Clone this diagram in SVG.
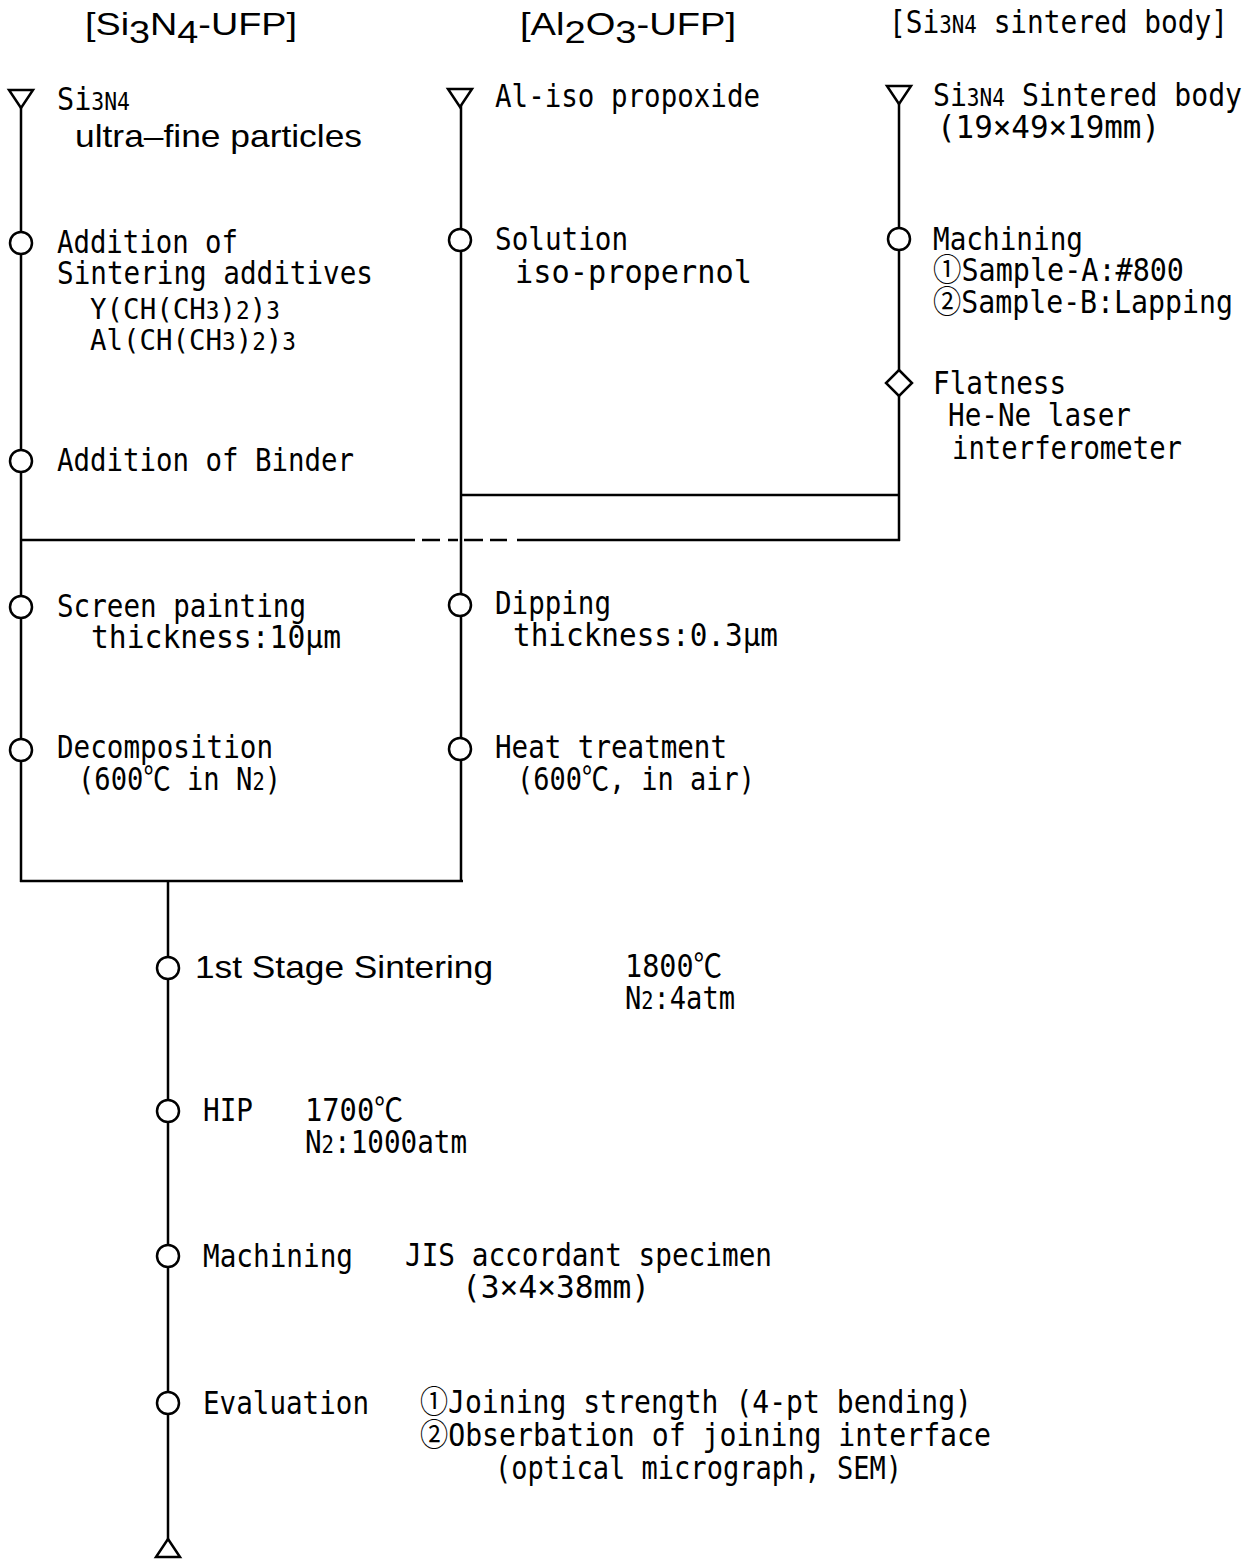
<svg xmlns="http://www.w3.org/2000/svg" width="1254" height="1559" viewBox="0 0 1254 1559">
<style>
.j{font-family:"DejaVu Sans Mono","Liberation Mono","Noto Sans CJK JP",monospace;font-size:32px;fill:#000}
.a{font-family:"Liberation Sans","Noto Sans CJK JP",sans-serif;font-size:32px;fill:#000}
.s{font-size:24px}
.ln{stroke:#000;stroke-width:2.5;fill:none}
.sym{stroke:#000;stroke-width:2.5;fill:#fff}
</style>
<rect width="1254" height="1559" fill="#fff"/>
<g id="connectors">
<line class="ln" x1="21" y1="106" x2="21" y2="882"/>
<line class="ln" x1="461" y1="105" x2="461" y2="882"/>
<line class="ln" x1="899" y1="102" x2="899" y2="541"/>
<line class="ln" x1="461" y1="495" x2="900" y2="495"/>
<line class="ln" x1="20" y1="540" x2="415" y2="540"/>
<line class="ln" x1="422" y1="540" x2="440" y2="540"/>
<line class="ln" x1="448" y1="540" x2="458" y2="540"/>
<line class="ln" x1="464" y1="540" x2="483" y2="540"/>
<line class="ln" x1="490" y1="540" x2="507" y2="540"/>
<line class="ln" x1="517" y1="540" x2="900" y2="540"/>
<line class="ln" x1="20" y1="881" x2="463" y2="881"/>
<line class="ln" x1="168" y1="881" x2="168" y2="1541"/>
</g>
<g id="hdr1"><text class="a" x="85" y="35" textLength="212" lengthAdjust="spacingAndGlyphs">[Si<tspan dy="8">3</tspan><tspan dy="-8">N</tspan><tspan dy="8">4</tspan><tspan dy="-8">-UFP]</tspan></text></g>
<g id="hdr2"><text class="a" x="520" y="35" textLength="216" lengthAdjust="spacingAndGlyphs">[Al<tspan dy="8">2</tspan><tspan dy="-8">O</tspan><tspan dy="8">3</tspan><tspan dy="-8">-UFP]</tspan></text></g>
<g id="hdr3"><text class="j" x="889" y="33" textLength="339" lengthAdjust="spacingAndGlyphs">[Si<tspan class="s">3N4</tspan> sintered body]</text></g>

<g id="n-si3n4-ufp">
<polygon class="sym" points="9,90 33,90 21,108"/>
<text class="j" x="57" y="110" textLength="73" lengthAdjust="spacingAndGlyphs">Si<tspan class="s">3N4</tspan></text>
<text class="a" x="75" y="147" textLength="287" lengthAdjust="spacingAndGlyphs">ultra–fine particles</text>
</g>
<g id="n-sintering-additives">
<circle class="sym" cx="21" cy="243" r="11"/>
<text class="j" x="57" y="253" textLength="181" lengthAdjust="spacingAndGlyphs">Addition of</text>
<text class="j" x="57" y="284" textLength="316" lengthAdjust="spacingAndGlyphs">Sintering additives</text>
<text class="j" x="90" y="319" textLength="190" lengthAdjust="spacingAndGlyphs" style="font-size:29px">Y(CH(CH<tspan class="s">3</tspan>)<tspan class="s">2</tspan>)<tspan class="s">3</tspan></text>
<text class="j" x="90" y="350" textLength="206" lengthAdjust="spacingAndGlyphs" style="font-size:29px">Al(CH(CH<tspan class="s">3</tspan>)<tspan class="s">2</tspan>)<tspan class="s">3</tspan></text>
</g>
<g id="n-binder">
<circle class="sym" cx="21" cy="461" r="11"/>
<text class="j" x="57" y="471" textLength="297" lengthAdjust="spacingAndGlyphs">Addition of Binder</text>
</g>
<g id="n-screen">
<circle class="sym" cx="21" cy="607" r="11"/>
<text class="j" x="57" y="617" textLength="249" lengthAdjust="spacingAndGlyphs">Screen painting</text>
<text class="j" x="91" y="648" textLength="250" lengthAdjust="spacingAndGlyphs">thickness:10μm</text>
</g>
<g id="n-decomp">
<circle class="sym" cx="21" cy="750" r="11"/>
<text class="j" x="57" y="758" textLength="216" lengthAdjust="spacingAndGlyphs">Decomposition</text>
<text class="j" x="78" y="790" textLength="203" lengthAdjust="spacingAndGlyphs">(600℃ in N<tspan class="s">2</tspan>)</text>
</g>

<g id="n-al-iso">
<polygon class="sym" points="448,89 472,89 460,107"/>
<text class="j" x="495" y="107" textLength="265" lengthAdjust="spacingAndGlyphs">Al-iso propoxide</text>
</g>
<g id="n-solution">
<circle class="sym" cx="460" cy="240" r="11"/>
<text class="j" x="495" y="250" textLength="133" lengthAdjust="spacingAndGlyphs">Solution</text>
<text class="j" x="515" y="283" textLength="237" lengthAdjust="spacingAndGlyphs">iso-propernol</text>
</g>
<g id="n-dipping">
<circle class="sym" cx="460" cy="605" r="11"/>
<text class="j" x="495" y="614" textLength="116" lengthAdjust="spacingAndGlyphs">Dipping</text>
<text class="j" x="513" y="646" textLength="265" lengthAdjust="spacingAndGlyphs">thickness:0.3μm</text>
</g>
<g id="n-heat">
<circle class="sym" cx="460" cy="749" r="11"/>
<text class="j" x="495" y="758" textLength="232" lengthAdjust="spacingAndGlyphs">Heat treatment</text>
<text class="j" x="517" y="790" textLength="238" lengthAdjust="spacingAndGlyphs">(600℃, in air)</text>
</g>

<g id="n-sintered-body">
<polygon class="sym" points="887,86 911,86 899,104"/>
<text class="j" x="933" y="106" textLength="309" lengthAdjust="spacingAndGlyphs">Si<tspan class="s">3N4</tspan> Sintered body</text>
<text class="j" x="937" y="138" textLength="223" lengthAdjust="spacingAndGlyphs">(19×49×19mm)</text>
</g>
<g id="n-machining1">
<circle class="sym" cx="899" cy="239" r="11"/>
<text class="j" x="933" y="250" textLength="150" lengthAdjust="spacingAndGlyphs">Machining</text>
<text class="j" x="933" y="281" textLength="251" lengthAdjust="spacingAndGlyphs">①Sample-A:#800</text>
<text class="j" x="933" y="313" textLength="300" lengthAdjust="spacingAndGlyphs">②Sample-B:Lapping</text>
</g>
<g id="n-flatness">
<polygon class="sym" points="899,370 912,383 899,396 886,383"/>
<text class="j" x="933" y="394" textLength="133" lengthAdjust="spacingAndGlyphs">Flatness</text>
<text class="j" x="948" y="426" textLength="183" lengthAdjust="spacingAndGlyphs">He-Ne laser</text>
<text class="j" x="952" y="459" textLength="230" lengthAdjust="spacingAndGlyphs">interferometer</text>
</g>

<g id="n-sintering1">
<circle class="sym" cx="168" cy="968" r="11"/>
<text class="a" x="195" y="978" textLength="298" lengthAdjust="spacingAndGlyphs">1st Stage Sintering</text>
<text class="j" x="625" y="977" textLength="97" lengthAdjust="spacingAndGlyphs">1800℃</text>
<text class="j" x="625" y="1009" textLength="110" lengthAdjust="spacingAndGlyphs">N<tspan class="s">2</tspan>:4atm</text>
</g>
<g id="n-hip">
<circle class="sym" cx="168" cy="1111" r="11"/>
<text class="j" x="203" y="1121" textLength="50" lengthAdjust="spacingAndGlyphs">HIP</text>
<text class="j" x="305" y="1121" textLength="98" lengthAdjust="spacingAndGlyphs">1700℃</text>
<text class="j" x="305" y="1153" textLength="162" lengthAdjust="spacingAndGlyphs">N<tspan class="s">2</tspan>:1000atm</text>
</g>
<g id="n-machining2">
<circle class="sym" cx="168" cy="1256" r="11"/>
<text class="j" x="203" y="1267" textLength="150" lengthAdjust="spacingAndGlyphs">Machining</text>
<text class="j" x="405" y="1266" textLength="367" lengthAdjust="spacingAndGlyphs">JIS accordant specimen</text>
<text class="j" x="462" y="1298" textLength="188" lengthAdjust="spacingAndGlyphs">(3×4×38mm)</text>
</g>
<g id="n-evaluation">
<circle class="sym" cx="168" cy="1403" r="11"/>
<text class="j" x="203" y="1414" textLength="166" lengthAdjust="spacingAndGlyphs">Evaluation</text>
<text class="j" x="420" y="1413" textLength="552" lengthAdjust="spacingAndGlyphs">①Joining strength (4-pt bending)</text>
<text class="j" x="420" y="1446" textLength="571" lengthAdjust="spacingAndGlyphs">②Obserbation of joining interface</text>
<text class="j" x="495" y="1479" textLength="407" lengthAdjust="spacingAndGlyphs">(optical micrograph, SEM)</text>
</g>
<g id="n-end">
<polygon class="sym" points="168,1539 180,1557 156,1557"/>
</g>
</svg>
